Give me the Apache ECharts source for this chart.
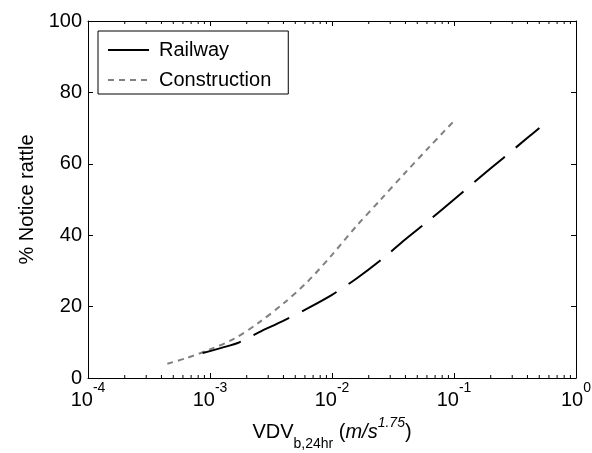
<!DOCTYPE html>
<html>
<head>
<meta charset="utf-8">
<script src="https://cdn.jsdelivr.net/npm/echarts@6/dist/echarts.min.js"></script>
<style>
  html, body { margin: 0; padding: 0; background: #fff; }
  #chart { width: 592px; height: 453px; }
</style>
</head>
<body>
<div id="chart"></div>
<script>
// Exposure–response curves: percentage noticing rattle vs. VDV
const railwayX = [8.7e-4, 1.26e-3, 1.74e-3, 2.51e-3, 3.98e-3, 6.31e-3, 0.01, 0.0158, 0.0251, 0.0398, 0.0631, 0.1, 0.158, 0.251, 0.398, 0.501];
const railwayY = [7.0, 8.5, 10.0, 12.8, 16.0, 19.5, 23.3, 27.8, 33.0, 38.8, 44.3, 50.0, 55.8, 61.5, 67.2, 70.0];

const constructionX = [4.47e-4, 6.31e-4, 1e-3, 1.58e-3, 2.51e-3, 3.98e-3, 6.31e-3, 0.01, 0.0158, 0.0251, 0.0398, 0.0631, 0.1];
const constructionY = [4.0, 5.5, 8.0, 11.0, 15.5, 20.8, 27.0, 34.5, 42.5, 50.0, 57.5, 64.8, 72.0];

// Axis ranges and tick positions
const xMin = 1e-4, xMax = 1;
const yMin = 0, yMax = 100, yStep = 20;
const minorDecades = [1e-4, 1e-3, 1e-2, 1e-1];
const minorMultipliers = [2, 3, 4, 5, 6, 7, 8, 9];

const FONT = "'Liberation Sans', Arial, sans-serif";

const minorTicks = [];
minorDecades.forEach(d => minorMultipliers.forEach(m => minorTicks.push([m * d, yMin])));

const chart = echarts.init(document.getElementById('chart'), null, { renderer: 'canvas' });

const xLabelRich = {
  b: { fontSize: 20, lineHeight: 20, fontFamily: FONT, color: '#000', verticalAlign: 'bottom' },
  s: { fontSize: 14, lineHeight: 14, fontFamily: FONT, color: '#000', verticalAlign: 'bottom', padding: [0, 0, 15, 0] }
};

const nameRich = {
  m: { fontSize: 20, lineHeight: 20, fontFamily: FONT, color: '#000', verticalAlign: 'bottom', padding: [0, 0, 9, 0] },
  i: { fontSize: 20, lineHeight: 20, fontFamily: FONT, fontStyle: 'italic', color: '#000', verticalAlign: 'bottom', padding: [0, 0, 9, 0] },
  sub: { fontSize: 14, lineHeight: 14, fontFamily: FONT, color: '#000', verticalAlign: 'bottom' },
  sup: { fontSize: 14, lineHeight: 14, fontFamily: FONT, fontStyle: 'italic', color: '#000', verticalAlign: 'bottom', padding: [0, 0, 21, 0] }
};

const axisLine = { show: true, onZero: false, lineStyle: { color: '#000', width: 1 } };
const hiddenSymbol = { opacity: 0, borderWidth: 0 };

chart.setOption({
  animation: false,
  backgroundColor: '#fff',
  grid: { left: 88, top: 21, right: 16, bottom: 75, containLabel: false, outerBoundsMode: 'none' },
  legend: {
    orient: 'vertical',
    left: 98,
    top: 31,
    padding: [8, 17, 3, 9],
    itemGap: 8,
    itemWidth: 41,
    itemHeight: 14,
    borderColor: '#000',
    borderWidth: 1,
    backgroundColor: '#fff',
    textStyle: { fontSize: 20, lineHeight: 22, fontFamily: FONT, color: '#000', padding: [0, 0, 0, 5] },
    data: [
      { name: 'Railway', itemStyle: hiddenSymbol, lineStyle: { type: 'solid', color: '#000', width: 2 } },
      { name: 'Construction', itemStyle: hiddenSymbol, lineStyle: { type: [6, 5], color: '#808080', width: 2 } }
    ]
  },
  xAxis: [
    {
      type: 'log', logBase: 10, min: xMin, max: xMax, position: 'bottom',
      axisLine: axisLine,
      axisTick: { show: true, inside: true, length: 5, lineStyle: { color: '#000' } },
      splitLine: { show: false },
      axisLabel: {
        margin: 12,
        formatter: v => '{b|10}{s|' + Math.round(Math.log10(v)) + '}',
        rich: xLabelRich
      },
      name: '{m|VDV}{sub|b,24hr}{m| (}{i|m/s}{sup|1.75}{m|)}',
      nameLocation: 'middle',
      nameGap: 53,
      nameTextStyle: { rich: nameRich }
    },
    {
      type: 'log', logBase: 10, min: xMin, max: xMax, position: 'top',
      axisLine: axisLine,
      axisTick: { show: true, inside: true, length: 5, lineStyle: { color: '#000' } },
      axisLabel: { show: false },
      splitLine: { show: false }
    }
  ],
  yAxis: [
    {
      type: 'value', min: yMin, max: yMax, interval: yStep, position: 'left',
      axisLine: axisLine,
      axisTick: { show: true, inside: true, length: 5, lineStyle: { color: '#000' } },
      splitLine: { show: false },
      axisLabel: { fontSize: 20, fontFamily: FONT, color: '#000', margin: 6 },
      name: '% Notice rattle',
      nameLocation: 'middle',
      nameGap: 48,
      nameRotate: 90,
      nameTextStyle: { fontSize: 20, fontFamily: FONT, color: '#000' }
    },
    {
      type: 'value', min: yMin, max: yMax, interval: yStep, position: 'right',
      axisLine: axisLine,
      axisTick: { show: true, inside: true, length: 5, lineStyle: { color: '#000' } },
      axisLabel: { show: false },
      splitLine: { show: false }
    }
  ],
  series: [
    {
      name: 'Railway', type: 'line', xAxisIndex: 0, yAxisIndex: 0,
      data: railwayX.map((x, i) => [x, railwayY[i]]),
      symbol: 'none', showSymbol: false, smooth: 0.3,
      lineStyle: { color: '#000', width: 2, type: [40, 14] },
      itemStyle: { color: '#000' },
      z: 3
    },
    {
      name: 'Construction', type: 'line', xAxisIndex: 0, yAxisIndex: 0,
      data: constructionX.map((x, i) => [x, constructionY[i]]),
      symbol: 'none', showSymbol: false, smooth: 0.3,
      lineStyle: { color: '#808080', width: 2, type: [6, 5] },
      itemStyle: { color: '#808080' },
      z: 2
    },
    {
      // minor log ticks on the bottom and top edges
      name: 'minorTicks', type: 'custom', xAxisIndex: 0, yAxisIndex: 0,
      silent: true, clip: false,
      data: minorTicks,
      renderItem: (params, api) => {
        const bottom = api.coord([api.value(0), yMin]);
        const top = api.coord([api.value(0), yMax]);
        const style = { stroke: '#000', lineWidth: 1 };
        return {
          type: 'group',
          children: [
            { type: 'line', shape: { x1: bottom[0], y1: bottom[1], x2: bottom[0], y2: bottom[1] - 3 }, style: style },
            { type: 'line', shape: { x1: top[0], y1: top[1], x2: top[0], y2: top[1] + 3 }, style: style }
          ]
        };
      },
      z: 1
    }
  ]
});
</script>
</body>
</html>
